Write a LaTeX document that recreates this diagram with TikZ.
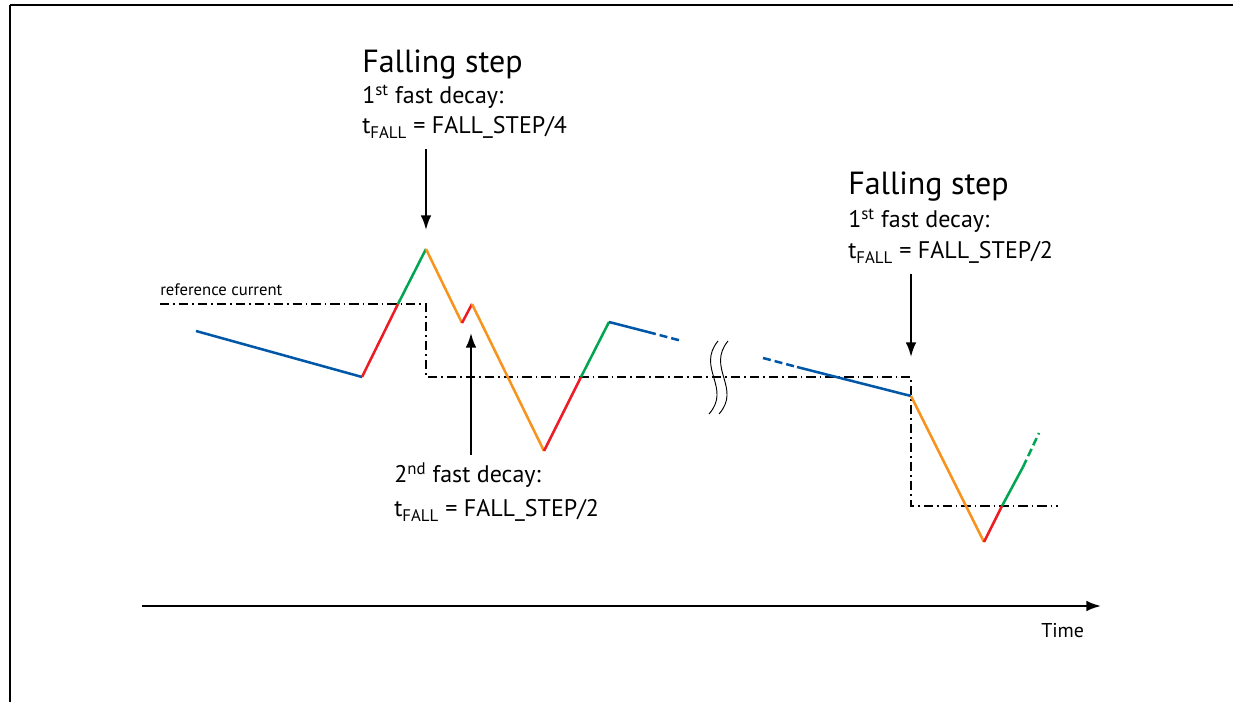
\documentclass[tikz,border=0pt]{standalone}
\usepackage{fontspec}
\setmainfont{PT Sans}
\usetikzlibrary{arrows.meta}

\definecolor{wblue}{RGB}{0,87,168}
\definecolor{wred}{RGB}{237,28,36}
\definecolor{wgreen}{RGB}{0,166,81}
\definecolor{worange}{RGB}{247,148,29}

\tikzset{
  wave/.style={line width=1.9pt},
  refline/.style={line width=0.9pt, dash pattern=on 7pt off 3pt on 1.2pt off 3pt},
  pointer/.style={line width=1.5pt, -{Latex[length=11pt,width=8pt]}},
  bigtxt/.style={anchor=base west, inner sep=0pt, font=\fontsize{24}{28}\selectfont},
  midtxt/.style={anchor=base west, inner sep=0pt, font=\fontsize{18}{22}\selectfont},
  smalltxt/.style={anchor=base west, inner sep=0pt, font=\fontsize{12.5}{15}\selectfont}
}

\begin{document}
\begin{tikzpicture}[x=0.75pt, y=-0.75pt]
\useasboundingbox (0,0) rectangle (1233,702);

% Frame
\draw[line width=1.2pt] (10,702) -- (10,5);
\draw[line width=2pt] (10,5) -- (1233,5);

% Reference current
\node[smalltxt] (reflbl) at (160,296) {reference current};
\coordinate (r0) at (160,304);
\coordinate (r1) at (426,304);
\coordinate (r2) at (426,377);
\coordinate (r3) at (911,377);
\coordinate (r4) at (911,506);
\coordinate (r5) at (1058,506);
\draw[refline] (r0) -- (r1) -- (r2) -- (r3) -- (r4) -- (r5);

% Waveform points
\coordinate (a0) at (196,331);
\coordinate (a1) at (362,377);
\coordinate (a2) at (398,304);
\coordinate (a3) at (426,249);
\coordinate (a4) at (462,323);
\coordinate (a5) at (472,304);
\coordinate (a6) at (544,451);
\coordinate (a7) at (581,377);
\coordinate (a8) at (609,322);
\coordinate (a9) at (648,332);
\coordinate (a10) at (682,341);
\coordinate (b0) at (763,358);
\coordinate (b1) at (797,367);
\coordinate (b2) at (911,396);
\coordinate (b3) at (984,542);
\coordinate (b4) at (1002,506);
\coordinate (b5) at (1023,467);
\coordinate (b6) at (1039,433);

% Waveform
\draw[wave, wblue] (a0) -- (a1);
\draw[wave, wred] (a1) -- (a2);
\draw[wave, wgreen] (a2) -- (a3);
\draw[wave, worange] (a3) -- (a4);
\draw[wave, wred] (a4) -- (a5);
\draw[wave, worange] (a5) -- (a6);
\draw[wave, wred] (a6) -- (a7);
\draw[wave, wgreen] (a7) -- (a8);
\draw[wave, wblue] (a8) -- (a9);
\draw[wave, wblue, dash pattern=on 6pt off 3pt] (a9) -- (a10);
\draw[wave, wblue, dash pattern=on 6pt off 3pt] (b0) -- (b1);
\draw[wave, wblue] (b1) -- (b2);
\draw[wave, worange] (b2) -- (b3);
\draw[wave, wred] (b3) -- (b4);
\draw[wave, wgreen] (b4) -- (b5);
\draw[wave, wgreen, dash pattern=on 6pt off 3pt] (b5) -- (b6);

% Break mark
\draw[line width=0.7pt] (718,341) .. controls (696,368) and (732,388) .. (709,414);
\draw[line width=0.7pt] (728,341) .. controls (706,368) and (742,388) .. (719,414);

% First falling step
\node[bigtxt] (fallA) at (362,73) {Falling step};
\node[midtxt] (decA) at (362,104) {1\textsuperscript{st} fast decay:};
\node[midtxt] (tA) at (362,134) {t\textsubscript{FALL} = FALL\_STEP/4};
\coordinate (tipA) at (426,230);
\draw[pointer] (tA.south -| tipA) ++(0,10) -- (tipA);

% Second fast decay
\node[midtxt] (decB) at (394,483) {2\textsuperscript{nd} fast decay:};
\node[midtxt] (tB) at (394,517) {t\textsubscript{FALL} = FALL\_STEP/2};
\coordinate (tipB) at (471,333);
\draw[pointer] (decB.north -| tipB) ++(0,-8) -- (tipB);

% Second falling step
\node[bigtxt] (fallC) at (848,195) {Falling step};
\node[midtxt] (decC) at (848,228) {1\textsuperscript{st} fast decay:};
\node[midtxt] (tC) at (848,259) {t\textsubscript{FALL} = FALL\_STEP/2};
\coordinate (tipC) at (911,357);
\draw[pointer] (tC.south -| tipC) ++(0,10) -- (tipC);

% Time axis
\coordinate (t0) at (142,606);
\coordinate (t1) at (1101,606);
\draw[pointer] (t0) -- (t1);
\node[smalltxt, font=\fontsize{15}{18}\selectfont] (time) at (1041,637) {Time};

\end{tikzpicture}
\end{document}
